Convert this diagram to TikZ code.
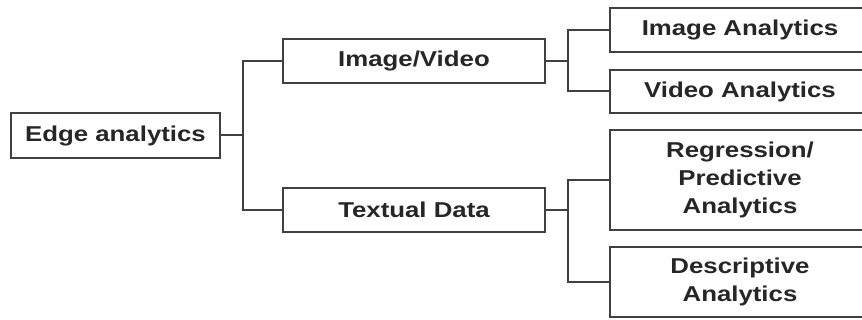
\documentclass[tikz,border=0pt]{standalone}
\usepackage{fontspec}
\setmainfont{Liberation Sans}[FakeStretch=1.2]
\begin{document}
\begin{tikzpicture}[x=1pt,y=-1pt,
  box/.style={draw=black!75,line width=2.4pt,rectangle,inner sep=0pt,
    font=\fontsize{21.5}{28}\selectfont\bfseries,text=black!85,align=center},
  link/.style={draw=black!75,line width=2pt}]
\useasboundingbox (0,0) rectangle (862,320);
\clip (0,0) rectangle (862,320);
\node[box,minimum width=209pt,minimum height=45pt] (ea) at (115.5,135.5) {Edge analytics};
\node[box,minimum width=262pt,minimum height=44pt] (iv) at (414,61) {Image/Video};
\node[box,minimum width=262pt,minimum height=44pt] (td) at (414,210) {Textual Data};
\node[box,minimum width=260pt,minimum height=44pt] (ia) at (740,30) {Image Analytics};
\node[box,minimum width=260pt,minimum height=43pt] (va) at (740,91.5) {Video Analytics};
\node[box,minimum width=260pt,minimum height=100pt] (rp) at (740,180) {Regression/\\Predictive\\Analytics};
\node[box,minimum width=260pt,minimum height=70pt] (da) at (740,282) {Descriptive\\Analytics};
\coordinate (j1) at (243,135.5);
\coordinate (j2) at (568,61);
\coordinate (j3) at (568,210);
\draw[link] (ea.east) -- (j1);
\draw[link] (iv.west) -| (j1) |- (td.west);
\draw[link] (iv.east) -- (j2);
\draw[link] (ia.west) -| (j2) |- (va.west);
\draw[link] (td.east) -- (j3);
\draw[link] (rp.west) -| (j3) |- (da.west);
\end{tikzpicture}
\end{document}
